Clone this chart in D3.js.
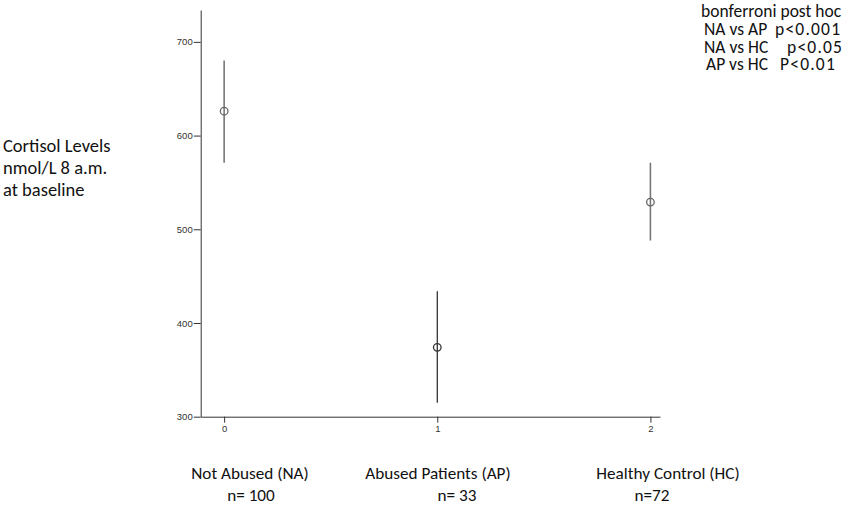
<!DOCTYPE html>
<html>
<head>
<meta charset="utf-8">
<script src="https://cdn.jsdelivr.net/npm/d3@7"></script>
<style>
  body { margin: 0; background: #fff; }
  .chart svg { display: block; }
  .axis path, .axis line { stroke: #333; }
  .axis text { font-family: Arial, "Liberation Sans", sans-serif; font-size: 9.5px; fill: #333; }
  .note { font-family: Carlito, Lato, sans-serif; fill: #111; }
</style>
</head>
<body>
<div class="chart"></div>
<script>
// group codes on the x axis
const groups = [0, 1, 2];
const means = [626, 374, 529];
const upperCI = [680, 434, 571];
const lowerCI = [571, 315, 488];
const groupNames = ['Not Abused (NA)', 'Abused Patients (AP)', 'Healthy Control (HC)'];
const groupNs = ['n= 100', 'n= 33', 'n=72'];
const yTicks = [300, 400, 500, 600, 700];
const yLabelLines = ['Cortisol Levels', 'nmol/L 8 a.m.', 'at baseline'];
const comparisons = ['NA vs AP', 'NA vs HC', 'AP vs HC'];
const pValues = ['p<0.001', 'p<0.05', 'P<0.01'];

const data = groups.map((g, i) => ({g: g, mean: means[i], hi: upperCI[i], lo: lowerCI[i]}));

const width = 848, height = 509;

const svg = d3.select('.chart')
    .append('svg')
    .attr('width', width)
    .attr('height', height);

const xScale = d3.scaleLinear()
    .domain([-0.11, 2.045])
    .range([200.7, 660]);
const yScale = d3.scaleLinear()
    .domain([300, 734])
    .range([416.7, 10]);

const xAxis = d3.axisBottom(xScale)
    .tickValues(groups)
    .tickFormat(d3.format('d'))
    .tickSize(6)
    .tickSizeOuter(0)
    .tickPadding(3);

svg.append('g')
    .attr('class', 'axis x-axis')
    .attr('transform', `translate(0, ${yScale(300)})`)
    .call(xAxis);

const yAxis = d3.axisLeft(yScale)
    .tickValues(yTicks)
    .tickSize(7)
    .tickSizeOuter(0)
    .tickPadding(1);

svg.append('g')
    .attr('class', 'axis y-axis')
    .attr('transform', `translate(${xScale.range()[0]}, 0)`)
    .call(yAxis);

// error bars
svg.selectAll('.ci')
    .data(data)
    .enter()
    .append('line')
    .attr('class', 'ci')
    .attr('x1', d => xScale(d.g))
    .attr('x2', d => xScale(d.g))
    .attr('y1', d => yScale(d.hi))
    .attr('y2', d => yScale(d.lo))
    .attr('stroke', (d, i) => i === 1 ? '#222' : '#777')
    .attr('stroke-width', (d, i) => i === 1 ? 1.2 : 1.6);

svg.selectAll('.mean')
    .data(data)
    .enter()
    .append('circle')
    .attr('class', 'mean')
    .attr('cx', d => xScale(d.g))
    .attr('cy', d => yScale(d.mean))
    .attr('r', 3.8)
    .attr('fill', 'none')
    .attr('stroke', (d, i) => i === 1 ? '#333' : '#666')
    .attr('stroke-width', 1.3);

// y label on the left
svg.append('text')
    .attr('class', 'note')
    .attr('font-size', 18.5)
    .selectAll('tspan')
    .data(yLabelLines)
    .enter()
    .append('tspan')
    .attr('x', 3)
    .attr('y', (d, i) => 152 + i * 22)
    .text(d => d);

// group names under the axis
const nameX = [250, 438, 668];
const nX = [251, 457, 652];
svg.selectAll('.gname')
    .data(groupNames)
    .enter()
    .append('text')
    .attr('class', 'note gname')
    .attr('font-size', 17.2)
    .attr('text-anchor', 'middle')
    .attr('x', (d, i) => nameX[i])
    .attr('y', 479)
    .text(d => d);

svg.selectAll('.gn')
    .data(groupNs)
    .enter()
    .append('text')
    .attr('class', 'note gn')
    .attr('font-size', 17.2)
    .attr('text-anchor', 'middle')
    .attr('x', (d, i) => nX[i])
    .attr('y', 501)
    .text(d => d);

// post hoc block, one text element
const post = svg.append('text')
    .attr('class', 'note')
    .attr('font-size', 17.5);

post.append('tspan')
    .attr('x', 701)
    .attr('y', 17)
    .text('bonferroni post hoc');

const cmpX = [704, 704, 706];
const pX = [775, 787, 780];
comparisons.forEach((c, i) => {
    post.append('tspan')
        .attr('x', cmpX[i])
        .attr('y', 35 + i * 17.7)
        .text(c);
    post.append('tspan')
        .attr('x', pX[i])
        .attr('y', 35 + i * 17.7)
        .attr('letter-spacing', 1.2)
        .text(pValues[i]);
});
</script>
</body>
</html>
